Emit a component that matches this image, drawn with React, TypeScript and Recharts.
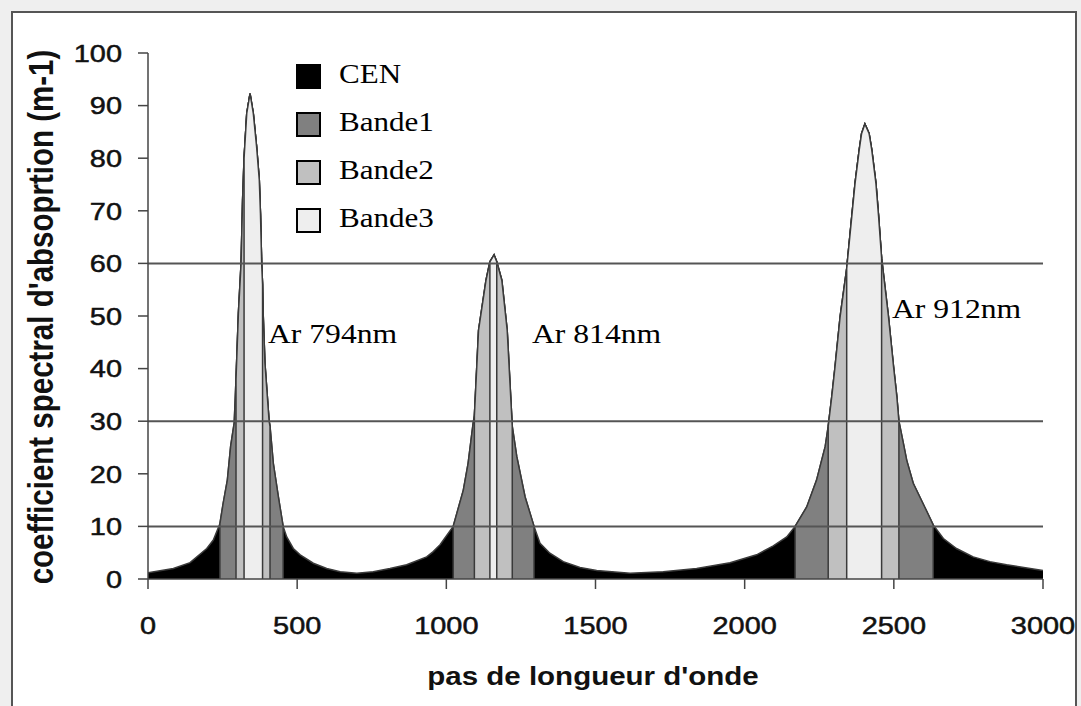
import React from 'react'
import { ComposedChart, Area, XAxis, YAxis, ReferenceLine } from 'recharts'

// pas de longueur d'onde où la courbe a été relevée
const pas = [
  0, 85, 141, 197, 219, 241, 252, 266, 277, 289,
  295, 303, 312, 317, 322, 331, 342, 353, 364, 373,
  377, 381, 384, 386, 392, 406, 409, 420, 437, 453,
  465, 487, 510, 554, 599, 644, 700, 755, 811, 867,
  934, 956, 979, 1023, 1057, 1073, 1090, 1094, 1108, 1133,
  1146, 1160, 1169, 1186, 1204, 1221, 1236, 1264, 1294, 1314,
  1347, 1392, 1448, 1504, 1616, 1727, 1839, 1951, 2040, 2096,
  2141, 2169, 2208, 2241, 2270, 2280, 2292, 2303, 2320, 2342,
  2359, 2370, 2384, 2392, 2403, 2417, 2426, 2440, 2449, 2459,
  2482, 2499, 2510, 2517, 2532, 2543, 2565, 2605, 2632,
  2666, 2710, 2766, 2822, 2878, 3000,
]

// coefficient spectral d'absorption (m-1)
const coef = [
  1.2, 2.0, 3.1, 5.8, 7.4, 10.5, 14.4, 18.8, 25.2, 29.7,
  38, 50.5, 60, 72, 80, 88.5, 92.3, 88.5, 82.2, 75.9,
  69.5, 60, 56, 50.5, 41, 30, 29, 22, 15.6, 10,
  8.0, 5.8, 4.6, 3.0, 2.0, 1.4, 1.1, 1.4, 2.0, 2.7,
  4.2, 5.2, 6.5, 10, 16.9, 22, 29.7, 31, 47.3, 56.8,
  60.3, 61.6, 60.3, 56.8, 47.3, 29, 23.3, 15.6, 10, 6.8,
  4.9, 3.3, 2.2, 1.6, 1.1, 1.4, 2.0, 3.1, 4.6, 6.3,
  8.0, 10, 13.7, 18.8, 25.2, 29, 34.7, 40.4, 49.9, 59,
  68.9, 75.2, 81.6, 84.7, 86.5, 84.7, 81.6, 75.2, 68.9, 61,
  49.9, 40.4, 34.7, 30, 25.8, 22.6, 18.2, 13.5, 10.3,
  7.7, 5.8, 4.2, 3.3, 2.7, 1.6,
]

// étendue de chaque bande (début, fin) pour les trois raies
const bande1 = [[241, 453], [1023, 1294], [2169, 2632]]
const bande2 = [[295, 409], [1094, 1221], [2280, 2517]]
const bande3 = [[322, 384], [1146, 1169], [2342, 2459]]

const xTicks = [0, 500, 1000, 1500, 2000, 2500, 3000]
const yTicks = [0, 10, 20, 30, 40, 50, 60, 70, 80, 90, 100]
const seuils = [10, 30, 60]

const series = [
  { key: 'cen', name: 'CEN', color: '#000000' },
  { key: 'b1', name: 'Bande1', color: '#808080' },
  { key: 'b2', name: 'Bande2', color: '#c0c0c0' },
  { key: 'b3', name: 'Bande3', color: '#eeeeee' },
]

const bandRanges: [string, number[][]][] = [
  ['b1', bande1],
  ['b2', bande2],
  ['b3', bande3],
]

const SANS = "Arial, 'Liberation Sans', sans-serif"
const SERIF = "'Times New Roman', 'Liberation Serif', serif"
const STRETCH = 1.18

// each band is the curve restricted to its range, dropping to 0 at both edges
function buildRows() {
  const rows: Record<string, number | null>[] = []
  pas.forEach((x, i) => {
    const v = coef[i]
    const main: Record<string, number | null> = { x, cen: v }
    const starts: string[] = []
    const ends: string[] = []
    bandRanges.forEach(([k, ranges]) => {
      main[k] = ranges.some(([s, e]) => x >= s && x <= e) ? v : null
      if (ranges.some(([s]) => s === x)) starts.push(k)
      if (ranges.some(([, e]) => e === x)) ends.push(k)
    })
    if (starts.length) {
      const r = { ...main }
      starts.forEach((k) => (r[k] = 0))
      rows.push(r)
    }
    rows.push(main)
    if (ends.length) {
      const r = { ...main }
      ends.forEach((k) => (r[k] = 0))
      rows.push(r)
    }
  })
  return rows
}

const rows = buildRows()

function XTick({ x, y, payload }: any) {
  return (
    <text
      transform={`translate(${x},${y}) scale(${STRETCH},1)`}
      textAnchor="middle"
      dy="0.36em"
      fontFamily={SANS}
      fontSize={24.5}
      fill="#111"
      stroke="#111"
      strokeWidth={0.5}
    >
      {payload.value}
    </text>
  )
}

function YTick({ x, y, payload }: any) {
  return (
    <text
      transform={`translate(${x},${y}) scale(${STRETCH},1)`}
      textAnchor="end"
      dy="0.36em"
      fontFamily={SANS}
      fontSize={24.5}
      fill="#111"
      stroke="#111"
      strokeWidth={0.5}
    >
      {payload.value}
    </text>
  )
}

export default function App() {
  return (
    <div
      style={{
        position: 'fixed',
        left: 0,
        top: 0,
        width: 1081,
        height: 706,
        overflow: 'hidden',
        background: '#efefef',
      }}
    >
      <div
        style={{
          position: 'absolute',
          left: 11,
          top: 11,
          width: 1062,
          height: 720,
          background: '#fff',
          borderLeft: '2px solid #555',
          borderTop: '2px solid #555',
          borderRight: '2px solid #555',
        }}
      />
      <div style={{ position: 'absolute', left: 0, top: 0 }}>
        <ComposedChart
          width={1081}
          height={706}
          data={rows}
          margin={{ top: 53, right: 38, bottom: 67, left: 88 }}
        >
          <XAxis
            type="number"
            dataKey="x"
            domain={[0, 3000]}
            ticks={xTicks}
            interval={0}
            height={60}
            tickSize={10}
            tickMargin={36}
            tick={<XTick />}
            axisLine={{ stroke: '#444', strokeWidth: 1.5 }}
            tickLine={{ stroke: '#444', strokeWidth: 1.5 }}
            allowDataOverflow
          />
          <YAxis
            type="number"
            domain={[0, 100]}
            ticks={yTicks}
            interval={0}
            width={60}
            tickSize={10}
            tickMargin={16}
            tick={<YTick />}
            axisLine={{ stroke: '#444', strokeWidth: 1.5 }}
            tickLine={{ stroke: '#444', strokeWidth: 1.5 }}
          />
          {series.map((s) => (
            <Area
              key={s.key}
              type="linear"
              dataKey={s.key}
              name={s.name}
              fill={s.color}
              fillOpacity={1}
              stroke="#3a3a3a"
              strokeWidth={1.5}
              dot={false}
              activeDot={false}
              isAnimationActive={false}
            />
          ))}
          {seuils.map((v) => (
            <ReferenceLine key={v} y={v} stroke="#555" strokeWidth={2} />
          ))}
        </ComposedChart>
      </div>

      <svg
        width={1081}
        height={706}
        style={{ position: 'absolute', left: 0, top: 0, pointerEvents: 'none' }}
      >
        <text
          transform={`translate(53,317) rotate(-90) scale(1,${STRETCH})`}
          textAnchor="middle"
          fontFamily={SANS}
          fontWeight="bold"
          fontSize={29.5}
          fill="#111"
        >
          coefficient spectral d'absoprtion (m-1)
        </text>
        <text
          transform={`translate(593,685) scale(${STRETCH},1)`}
          textAnchor="middle"
          fontFamily={SANS}
          fontWeight="bold"
          fontSize={25}
          fill="#111"
        >
          pas de longueur d'onde
        </text>
        <text transform={`translate(268,343) scale(1.15,1)`} fontFamily={SERIF} fontSize={27.5} fill="#000">
          Ar 794nm
        </text>
        <text transform={`translate(532,343) scale(1.15,1)`} fontFamily={SERIF} fontSize={27.5} fill="#000">
          Ar 814nm
        </text>
        <text transform={`translate(892,318) scale(1.15,1)`} fontFamily={SERIF} fontSize={27.5} fill="#000">
          Ar 912nm
        </text>
      </svg>

      <div style={{ position: 'absolute', left: 296, top: 52 }}>
        {series.map((s) => (
          <div key={s.key} style={{ display: 'flex', alignItems: 'center', height: 48 }}>
            <div
              style={{
                width: 21,
                height: 21,
                background: s.color,
                border: '2px solid #000',
              }}
            />
            <span
              style={{
                marginLeft: 18,
                marginTop: -4,
                fontFamily: SERIF,
                fontSize: 27,
                lineHeight: 1,
                color: '#000',
                display: 'inline-block',
                transform: 'scaleX(1.15)',
                transformOrigin: 'left center',
              }}
            >
              {s.name}
            </span>
          </div>
        ))}
      </div>
    </div>
  )
}
